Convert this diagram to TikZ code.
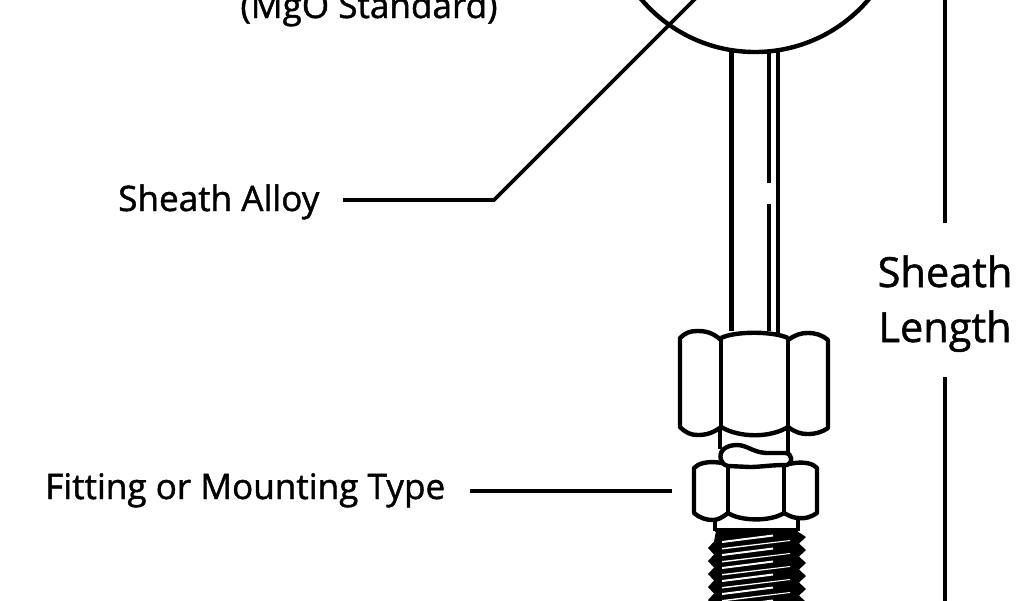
\documentclass[tikz,border=0pt]{standalone}
\usepackage{fontspec}
\setmainfont[FakeBold=1.2]{Open Sans}
\tikzset{
 ln/.style={line width=4.4pt,draw=black,line join=round},
 lead/.style={line width=3.6pt,draw=black},
 lbl/.style={inner sep=0pt,font=\fontsize{35.1}{36}\selectfont,text=black},
 big/.style={inner sep=0pt,font=\fontsize{41.5}{42}\selectfont,text=black}
}
\begin{document}
\begin{tikzpicture}[x=1pt,y=-1pt]
\useasboundingbox (0,0) rectangle (1024,600);
\clip (0,0) rectangle (1024,600);
\fill[white] (0,0) rectangle (1024,600);
% sensor head
\draw[ln] (755,-97) circle (149);
% labels
\node[lbl,anchor=base] (mgo) at (369,18) {(MgO Standard)};
\node[lbl,anchor=base west] (alloy) at (118,211) {Sheath Alloy};
\node[lbl,anchor=base west] (fit) at (45,499) {Fitting or Mounting Type};
\node[big,anchor=base] (s1) at (945,287) {Sheath};
\node[big,anchor=base] (s2) at (945,342) {Length};
% leaders
\coordinate (a0) at (343,200);
\coordinate (a1) at (494,200);
\coordinate (a2) at (700,-6);
\draw[lead] (a0) -- (a1) -- (a2);
\coordinate (f0) at (470,491);
\coordinate (f1) at (672,491);
\draw[lead] (f0) -- (f1);
% dimension line
\coordinate (d0) at (945,-5);
\coordinate (d1) at (945,223);
\coordinate (d2) at (945,377);
\coordinate (d3) at (945,605);
\draw[lead,line width=4pt] (d0) -- (d1) (d2) -- (d3);
% sheath
\draw[ln] (731.5,50) -- (731.5,331);
\draw[ln] (778,50) -- (778,333);
\draw[ln] (769,52) -- (769,183) (769,204) -- (769,331);
% upper nut
\draw[ln] (721,338) .. controls (735,331) and (773,331) .. (788,338);
\draw[ln] (721,338) -- (721,427) (788,338) -- (788,427);
\draw[ln] (721,427) .. controls (740,438) and (770,438) .. (788,427);
\draw[ln] (721,340) .. controls (712,332) and (705,331) .. (697,331) .. controls (690,331) and (685,333) .. (680,338) -- (680,427) .. controls (686,433) and (691,435) .. (698,435) .. controls (706,435) and (713,433) .. (721,427);
\draw[ln] (788,340) .. controls (795,335) and (800,333) .. (808,333) .. controls (816,333) and (822,335) .. (828,340) -- (828,428) .. controls (822,432) and (816,434) .. (808,434) .. controls (800,434) and (795,432) .. (788,427);
% neck and ferrule
\draw[ln] (720,427) -- (720,449) (788,427) -- (788,452);
\draw[ln] (721,460) .. controls (718,450) and (727,445) .. (737,445) .. controls (747,445) and (752,452) .. (766,453) -- (785,453) .. controls (793,453) and (793,464) .. (787,465) .. controls (770,465) and (760,467) .. (750,467) -- (728,466) .. controls (724,465) and (722,463) .. (721,460);
% lower nut
\draw[ln] (728,467) -- (728,513) (784,467) -- (784,513);
\draw[ln] (728,513) .. controls (740,521) and (770,522) .. (784,513);
\draw[ln] (723,463) .. controls (715,462) and (706,461) .. (698,465) -- (694,468) -- (694,513) .. controls (700,518) and (706,520) .. (713,520) .. controls (718,520) and (723,517) .. (728,513);
\draw[ln] (789,464) .. controls (798,462) and (807,462) .. (813,465) -- (817,468) -- (817,513) .. controls (811,517) and (805,519) .. (799,518) .. controls (794,518) and (789,516) .. (784,513);
% shank
\draw[ln] (715,519) -- (715,531) (798,518) -- (798,531);
\draw[line width=4pt] (715,530) -- (798,530);
% threads
\fill[black] (716,531) -- (797,531)
  \foreach \y in {0,1,2,3,4,5} { -- (806,{537+13*\y}) -- (799,{543.5+13*\y}) }
  -- (799,610) -- (714,610)
  \foreach \y in {5,4,3,2,1,0} { -- (708,{548+13*\y}) -- (714,{541.5+13*\y}) } -- cycle;
\foreach \y in {0,1,2,3,4,5} {
  \fill[white] (722,{541+13*\y}) -- (773,{534.5+13*\y}) -- (773,{536.5+13*\y}) -- (722,{543+13*\y}) -- cycle;
  \fill[white] (722,{548+13*\y}) -- (790,{540+13*\y}) -- (790,{541+13*\y}) -- (722,{549.5+13*\y}) -- cycle;
}
\end{tikzpicture}
\end{document}
